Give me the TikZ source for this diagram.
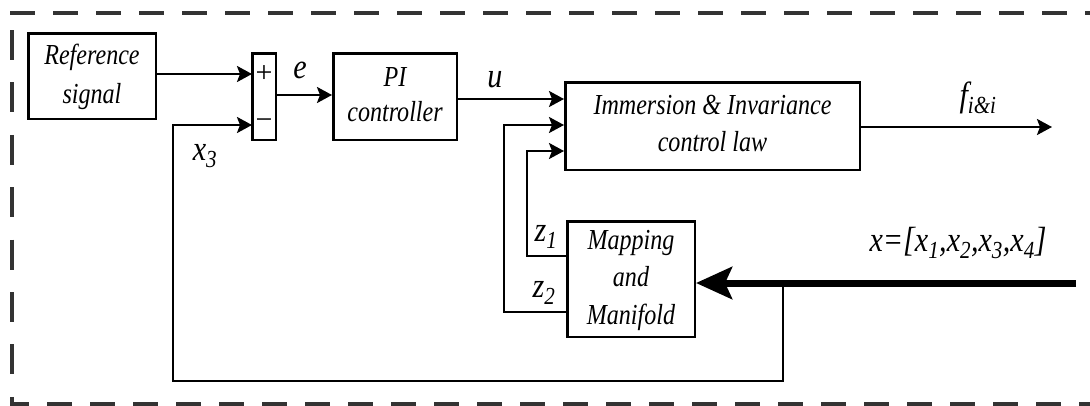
\documentclass[tikz,border=0pt]{standalone}
\usepackage{fontspec}
\usepackage{graphicx}
\setmainfont{Liberation Serif}
\usetikzlibrary{arrows.meta,calc}
\newcommand\sqz[1]{\scalebox{0.86}[1]{\begin{tabular}{@{}c@{}}#1\end{tabular}}}
\newcommand\sqb[1]{\scalebox{0.83}[1]{\begin{tabular}{@{}c@{}}#1\end{tabular}}}
\begin{document}
\begin{tikzpicture}[x=1pt,y=-1pt,
  blk/.style={draw, line width=2.5pt, inner sep=0pt, align=center},
  arr/.style={line width=2.5pt, -{Stealth[length=15pt,width=16pt,inset=3pt]}},
  lbl/.style={inner sep=0pt, font=\fontsize{35}{35}\selectfont\itshape},
  frame/.style={line width=4pt, draw=black!80}]
\useasboundingbox (0,0) rectangle (1090,405);
% frame
\draw[frame, dash pattern=on 25pt off 18pt] (10,13) -- (1090,13);
\draw[frame, dash pattern=on 30pt off 22.4pt] (12,30) -- (12,405);
\draw[frame, dash pattern=on 25pt off 18pt, dash phase=6pt] (10,404) -- (1090,404);
% blocks
\node[blk, font=\fontsize{29}{39}\selectfont\itshape, minimum width=127.5pt, minimum height=85.5pt] (ref) at (92,76) {\sqb{Reference\\signal}};
\node[blk, minimum width=23.5pt, minimum height=86.5pt] (sum) at (264,96.5) {};
\node[inner sep=0pt, font=\fontsize{30}{30}\selectfont] (plus) at (264,74) {+};
\node[inner sep=0pt, font=\fontsize{30}{30}\selectfont] (minus) at (264,124) {\char"2212};
\node[blk, font=\fontsize{29}{35}\selectfont\itshape, minimum width=123.5pt, minimum height=86.5pt] (pi) at (395,96.5) {\sqb{PI\\controller}};
\node[blk, font=\fontsize{29}{37}\selectfont\itshape, minimum width=294.5pt, minimum height=87.5pt] (ii) at (712.5,126) {\sqb{Immersion \& Invariance\\control law}};
\node[blk, font=\fontsize{29}{37.5}\selectfont\itshape, minimum width=127.5pt, minimum height=115.5pt] (map) at (631,279) {\sqb{Mapping\\and\\Manifold}};
% coordinates
\coordinate (sp) at (252,74);
\coordinate (sm) at (252,125);
\coordinate (ii1) at (564,99);
\coordinate (ii2) at (564,125);
\coordinate (ii3) at (564,151);
\coordinate (m1) at (566,256);
\coordinate (m2) at (566,312);
\coordinate (c1) at (527,256);
\coordinate (c2) at (504,312);
\coordinate (out) at (1052,127);
\coordinate (xin) at (1076,283);
\coordinate (br) at (783,283);
\coordinate (fb) at (173,381);
% connectors
\draw[arr] (ref.east |- sp) -- (sp);
\draw[arr] (sum.east |- 0,95) -- (pi.west |- 0,95);
\draw[arr] (pi.east |- ii1) -- (ii1);
\draw[arr] (m1) -- (c1) |- (ii3);
\draw[arr] (m2) -- (c2) |- (ii2);
\draw[arr] (ii.east |- out) -- (out);
\draw[line width=7pt, -{Stealth[length=36pt,width=32pt,inset=7pt]}] (xin) -- (xin -| map.east);
\draw[arr] (br) |- (fb) |- (sm);
% labels
\node[lbl] (le) at (300,71) {\sqz{e}};
\node[lbl] (lu) at (495,80) {\sqz{u}};
\node[lbl] (lx3) at (205,153) {\sqz{x\textsubscript{3}}};
\node[lbl] (lz1) at (546,234) {\sqz{z\textsubscript{1}}};
\node[lbl] (lz2) at (544,290) {\sqz{z\textsubscript{2}}};
\node[lbl] (lf) at (978,99) {\sqz{f\textsubscript{i\&i}}};
\node[lbl] (lx) at (958,244) {\sqz{x=[x\textsubscript{1},x\textsubscript{2},x\textsubscript{3},x\textsubscript{4}]}};
\end{tikzpicture}
\end{document}
